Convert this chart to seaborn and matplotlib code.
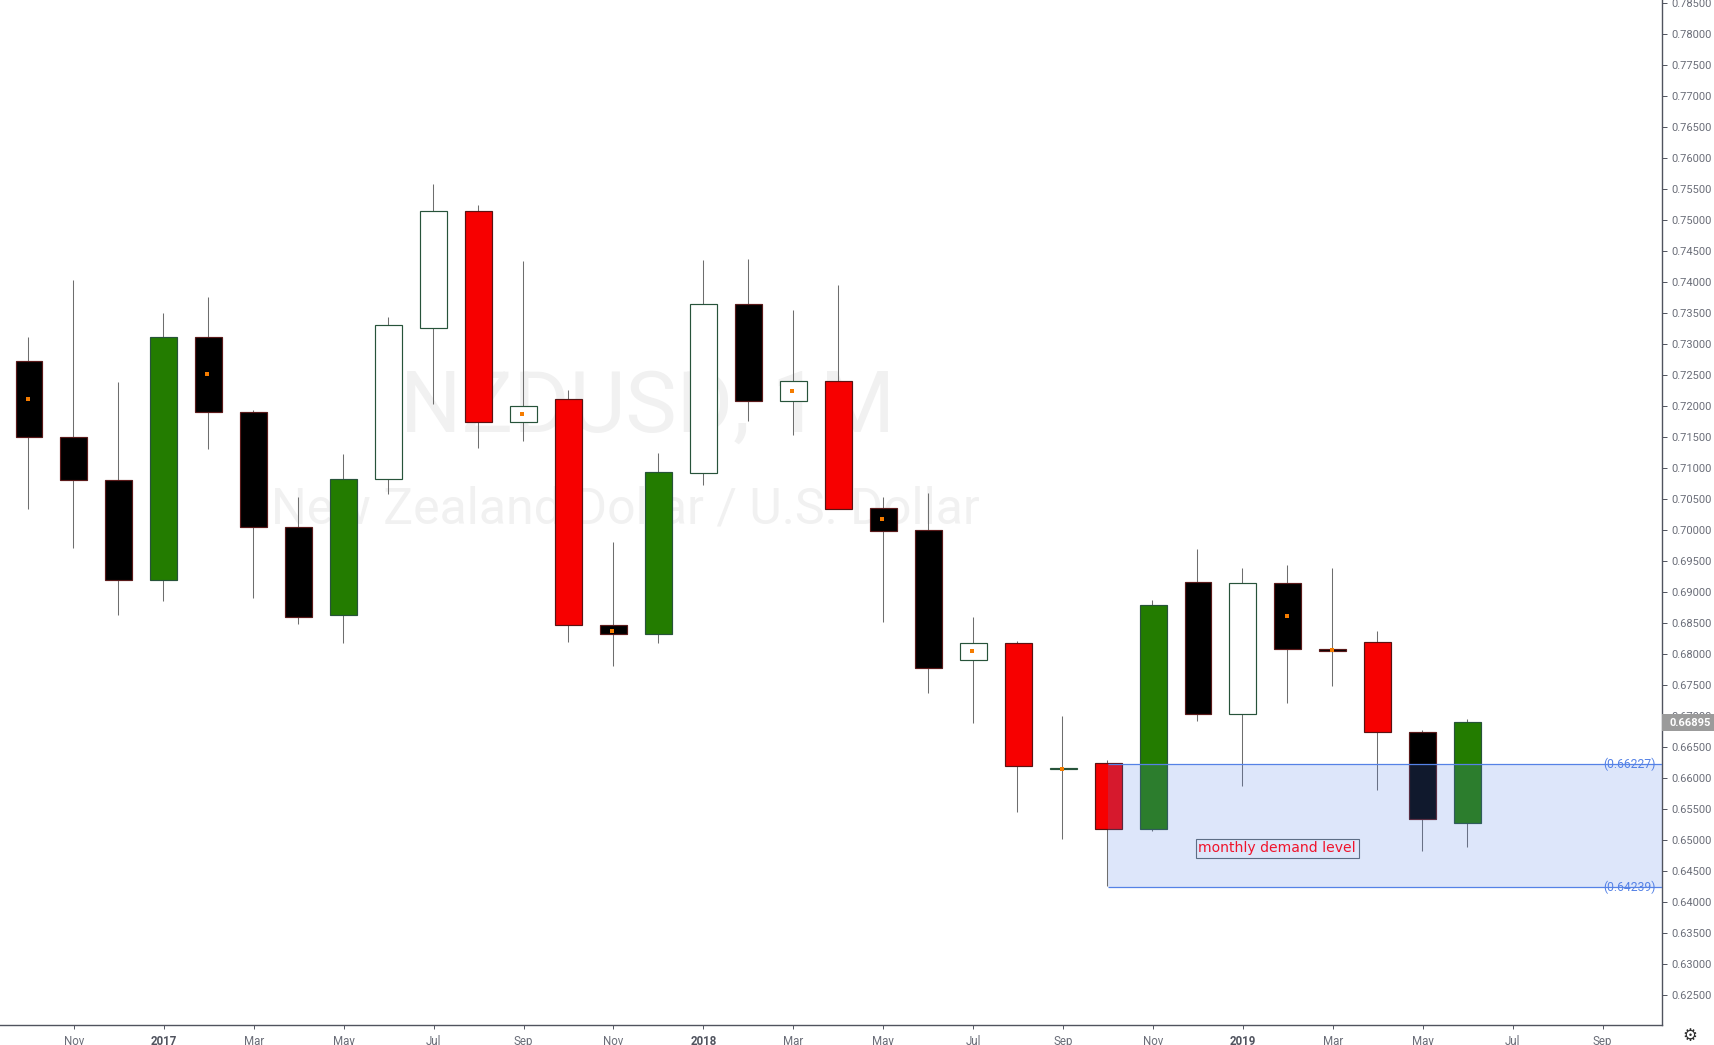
# NZDUSD monthly candles with a demand zone, drawn from values
import matplotlib
matplotlib.use("Agg")
import matplotlib.pyplot as plt
from matplotlib.patches import Rectangle
from matplotlib.transforms import blended_transform_factory
import numpy as np
import pandas as pd
import seaborn as sns

body_top = [0.72725, 0.71500, 0.70814, 0.73113, 0.73113, 0.71902, 0.70046, 0.70821, 0.73306, 0.75151, 0.75151,
            0.71999, 0.72112, 0.68466, 0.70934, 0.73652, 0.73652, 0.72402, 0.72402, 0.70353, 0.69995, 0.68174,
            0.68174, 0.66155, 0.66237, 0.68792, 0.69169, 0.69150, 0.69150, 0.68080, 0.68198, 0.66737, 0.66899]
body_bottom = [0.71499, 0.70814, 0.69191, 0.69191, 0.71902, 0.70046, 0.68594, 0.68626, 0.70821, 0.73264, 0.71751,
               0.71751, 0.68466, 0.68324, 0.68324, 0.70927, 0.72080, 0.72080, 0.70346, 0.69991, 0.67770, 0.67900,
               0.66188, 0.66145, 0.65172, 0.65172, 0.67038, 0.67038, 0.68079, 0.68050, 0.66737, 0.65333, 0.65279]
wick_high = [0.73118, 0.74041, 0.72391, 0.73511, 0.73758, 0.71940, 0.70535, 0.71229, 0.73440, 0.75593, 0.75240,
             0.74341, 0.72262, 0.69807, 0.71245, 0.74359, 0.74376, 0.73547, 0.73952, 0.70535, 0.70600, 0.68598,
             0.68211, 0.67001, 0.66291, 0.68873, 0.69701, 0.69383, 0.69438, 0.69383, 0.68377, 0.66775, 0.66953]
wick_low = [0.70346, 0.69717, 0.68636, 0.68862, 0.71315, 0.68910, 0.68490, 0.68184, 0.70588, 0.72030, 0.71331,
            0.71444, 0.68201, 0.67814, 0.68184, 0.70729, 0.71767, 0.71536, 0.70340, 0.68520, 0.67377, 0.66893,
            0.65456, 0.65020, 0.64250, 0.65149, 0.66925, 0.65870, 0.67214, 0.67478, 0.65811, 0.64822, 0.64891]
candle_kind = ["black", "black", "black", "green", "black", "black", "black", "green", "white", "white", "red",
               "white", "red", "black", "green", "white", "black", "white", "red", "black", "black", "white",
               "red", "white", "red", "green", "black", "white", "black", "black", "red", "black", "green"]

dot_pos = [0, 4, 11, 13, 17, 19, 21, 23, 28, 29]
dot_price = [0.72110, 0.72515, 0.71870, 0.68380, 0.72241, 0.70175, 0.68045, 0.66145, 0.68607, 0.68060]

y_ticks = [0.625, 0.630, 0.635, 0.640, 0.645, 0.650, 0.655, 0.660, 0.665, 0.670, 0.675, 0.680, 0.685, 0.690,
           0.695, 0.700, 0.705, 0.710, 0.715, 0.720, 0.725, 0.730, 0.735, 0.740, 0.745, 0.750, 0.755, 0.760,
           0.765, 0.770, 0.775, 0.780, 0.785]
x_ticks = [1, 3, 5, 7, 9, 11, 13, 15, 17, 19, 21, 23, 25, 27, 29, 31, 33, 35]
x_labels = ["Nov", "2017", "Mar", "May", "Jul", "Sep", "Nov", "2018", "Mar", "May", "Jul", "Sep", "Nov", "2019",
            "Mar", "May", "Jul", "Sep"]

zone_start = 24
zone_top = 0.66227
zone_bottom = 0.64239
last_price = 0.66895

face_colors = {"black": "#000000", "red": "#f70000", "green": "#237c00", "white": "#ffffff"}
edge_colors = {"black": "#5a1a1a", "red": "#5a1212", "green": "#27533a", "white": "#27533a"}
AXIS_COLOR = "#50535e"
LABEL_COLOR = "#6a6d78"
BLUE = "#5582e6"

sns.set_theme(style="white")
plt.rcParams["font.family"] = ["Roboto", "DejaVu Sans"]

fig = plt.figure(figsize=(17.14, 10.45), dpi=100)
ax = fig.add_axes([0, 20 / 1045, 1662 / 1714, 1025 / 1045])

df = pd.DataFrame({"pos": np.arange(len(body_top)),
                   "low": body_bottom,
                   "height": np.array(body_top) - np.array(body_bottom)})

# wicks go under the bodies
ax.vlines(df["pos"] - 0.015, wick_low, wick_high, color="#6e6e6e", linewidth=0.75, zorder=2)

sns.barplot(data=df, x="pos", y="height", bottom=df["low"].values, native_scale=True, width=0.6,
            color="black", saturation=1, errorbar=None, linewidth=0.85, zorder=3, ax=ax)
for bar, kind in zip(ax.patches, candle_kind):
    bar.set_facecolor(face_colors[kind])
    bar.set_edgecolor(edge_colors[kind])

ax.scatter(np.array(dot_pos) - 0.03, dot_price, marker="s", s=7, color="#f57c00", linewidth=0, zorder=4)

# demand zone sits on top of the candles
x_min, x_max = -0.645, 36.32
ax.fill_between([zone_start, x_max], zone_bottom, zone_top, color=BLUE, alpha=0.2, linewidth=0, zorder=5)
ax.hlines([zone_top, zone_bottom], zone_start, x_max, color=BLUE, linewidth=0.9, zorder=6)
for level in [zone_top, zone_bottom]:
    ax.text(36.17, level, f"({level:.5f})", color=BLUE, fontsize=8.7, ha="right", va="center", zorder=7)

ax.text(27.76, 0.64862, "monthly demand level", color="#f0142c", fontsize=10.1, family="DejaVu Sans",
        ha="center", va="center", zorder=7,
        bbox=dict(boxstyle="square,pad=0.2", facecolor="none", edgecolor="#5d6d85", linewidth=0.8))

# watermark
ax.text(648 / 1662, 1 - 408 / 1025, "NZDUSD, 1M", transform=ax.transAxes, fontsize=62, color="#f1f1f1",
        ha="center", va="center", zorder=0)
ax.text(625 / 1662, 1 - 509 / 1025, "New Zealand Dollar / U.S. Dollar", transform=ax.transAxes, fontsize=36,
        color="#f1f1f1", ha="center", va="center", zorder=0)

ax.set_xlim(x_min, x_max)
ax.set_ylim(0.62013, 0.78556)
ax.set_xlabel("")
ax.set_ylabel("")

ax.yaxis.tick_right()
ax.set_yticks(y_ticks)
ax.set_yticklabels([f"{t:.5f}" for t in y_ticks])
ax.set_xticks(x_ticks)
ax.set_xticklabels(x_labels)
ax.tick_params(axis="y", length=3.6, width=0.7, color=AXIS_COLOR, labelcolor=LABEL_COLOR, labelsize=8, pad=3)
ax.tick_params(axis="x", length=2.9, width=0.7, color=AXIS_COLOR, labelcolor=LABEL_COLOR, labelsize=8.3, pad=4.5)
ax.tick_params(bottom=True, right=True, left=False)
for label in ax.get_xticklabels():
    if label.get_text().startswith("20"):
        label.set_color(AXIS_COLOR)
        label.set_fontweight("bold")

for side in ["top", "left"]:
    ax.spines[side].set_visible(False)
for side in ["right", "bottom"]:
    ax.spines[side].set_color(AXIS_COLOR)
    ax.spines[side].set_linewidth(1.0)

# current price tag on the scale
tag_half = 0.00137
tag_trans = blended_transform_factory(ax.transAxes, ax.transData)
ax.add_patch(Rectangle((1, last_price - tag_half), 52 / 1662, 2 * tag_half, transform=tag_trans,
                       facecolor="#9b9b9b", edgecolor="none", clip_on=False, zorder=10))
ax.annotate(f"{last_price:.5f}", xy=(1, last_price), xycoords=tag_trans,
            xytext=(20.6, 0), textcoords="offset points", color="white", fontsize=8, fontweight="bold",
            ha="center", va="center", annotation_clip=False, zorder=11)

# settings gear in the corner
fig.text(1690 / 1714, 1 - 1036 / 1045, "\u2699", family="DejaVu Sans", fontsize=12, color="#2e2e2e",
         ha="center", va="center")

fig.savefig("out.png", dpi=100, facecolor="white")
